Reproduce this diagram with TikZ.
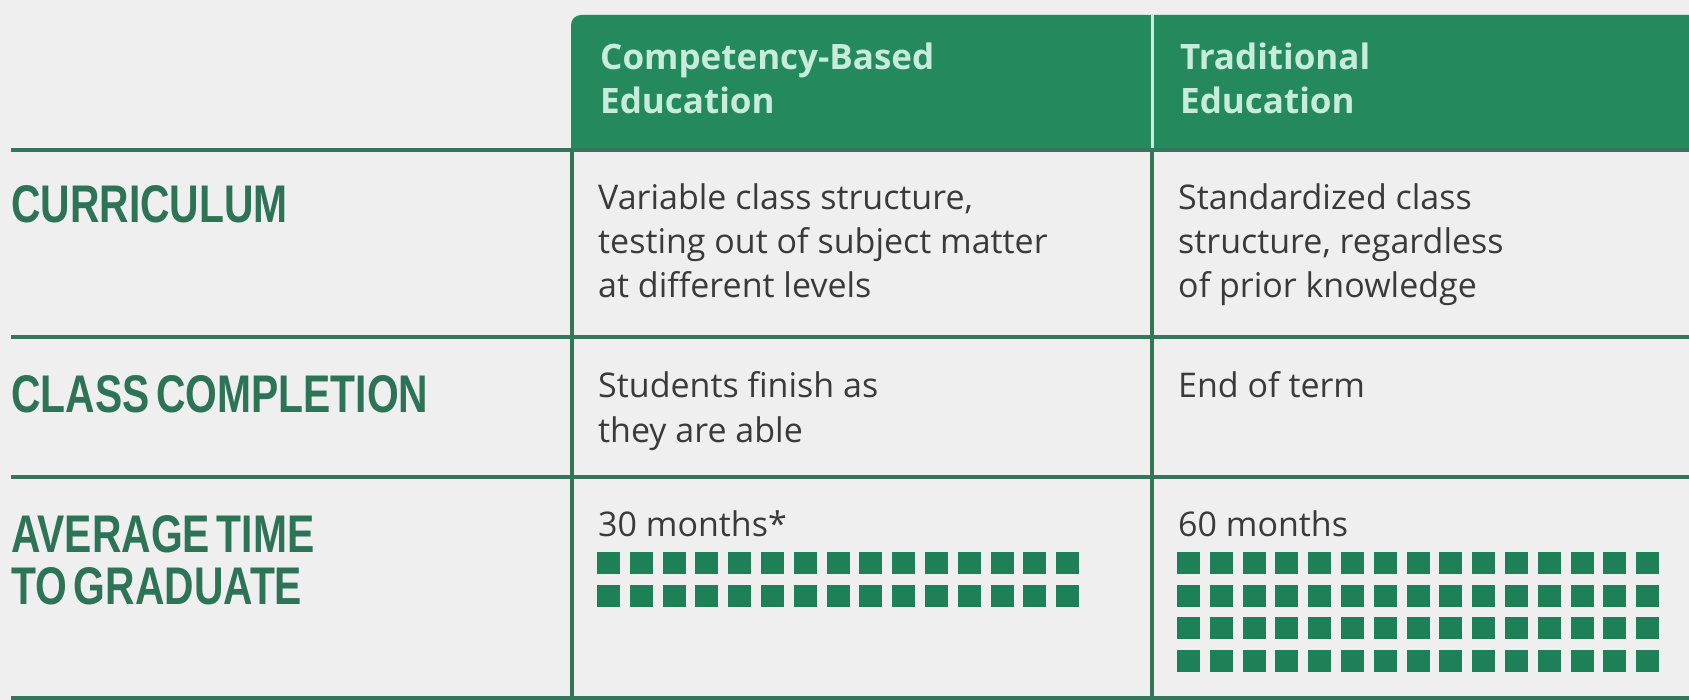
\documentclass[tikz,border=0pt]{standalone}
\usepackage{fontspec}
\setmainfont{Open Sans}
\newfontfamily\labelfont[FakeStretch=0.77,WordSpace=0.6]{Liberation Sans}
\definecolor{bggray}{RGB}{239,239,239}
\definecolor{hdrgreen}{RGB}{36,138,94}
\definecolor{hdrtext}{RGB}{200,236,218}
\definecolor{rulegreen}{RGB}{52,118,90}
\definecolor{labelgreen}{RGB}{45,115,85}
\definecolor{blockgreen}{RGB}{30,128,86}
\definecolor{celltext}{RGB}{58,58,58}
\begin{document}
\begin{tikzpicture}[x=1pt,y=-1pt,
  hdr/.style={anchor=base west,inner sep=0,align=left,text=hdrtext,font=\fontsize{35}{44}\selectfont\bfseries},
  cell/.style={anchor=base west,inner sep=0,align=left,text=celltext,font=\fontsize{34}{44}\selectfont},
  rowlabel/.style={anchor=base west,inner sep=0,align=left,text=labelgreen,font=\labelfont\bfseries\fontsize{53}{52}\selectfont},
  rule/.style={draw=rulegreen,line width=4pt},
  block/.style={fill=blockgreen}]
\fill[bggray] (0,0) rectangle (1689,700);
\useasboundingbox (0,0) rectangle (1689,700);
% header band
\fill[hdrgreen] (571,150) -- (571,25) arc[start angle=180,end angle=90,radius=10pt] -- (1689,15) -- (1689,150) -- cycle;
\draw[hdrtext,line width=3pt] (1152,15) -- (1152,148);
% (multi-line nodes sit on their last line)
\node[hdr](cbe) at (600,114){Competency-Based\\Education};
\node[hdr](trad) at (1180,114){Traditional\\Education};
% grid
\foreach \y in {150,337,477,698} \draw[rule] (11,\y) -- (1689,\y);
\foreach \x in {572,1152} \draw[rule] (\x,150) -- (\x,700);
% row labels
\node[rowlabel](curr) at (11,223){CURRICULUM};
\node[rowlabel](compl) at (11,412){CLASS COMPLETION};
\node[rowlabel](avg) at (11,604){AVERAGE TIME\\TO GRADUATE};
% cells
\node[cell](currcbe) at (598,298){Variable class structure,\\testing out of subject matter\\at different levels};
\node[cell](currtrad) at (1178,298){Standardized class\\structure, regardless\\of prior knowledge};
\node[cell](complcbe) at (598,442){Students finish as\\they are able};
\node[cell](compltrad) at (1178,398){End of term};
\node[cell](avgcbe) at (598,536){30 months*};
\node[cell](avgtrad) at (1178,536){60 months};
% month blocks
\foreach \r in {0,1} \foreach \c in {0,...,14} \fill[block] ({597+\c*32.8},{552+\r*32.6}) rectangle ++(23,22);
\foreach \r in {0,...,3} \foreach \c in {0,...,14} \fill[block] ({1177+\c*32.8},{552+\r*32.6}) rectangle ++(23,22);
\end{tikzpicture}
\end{document}
